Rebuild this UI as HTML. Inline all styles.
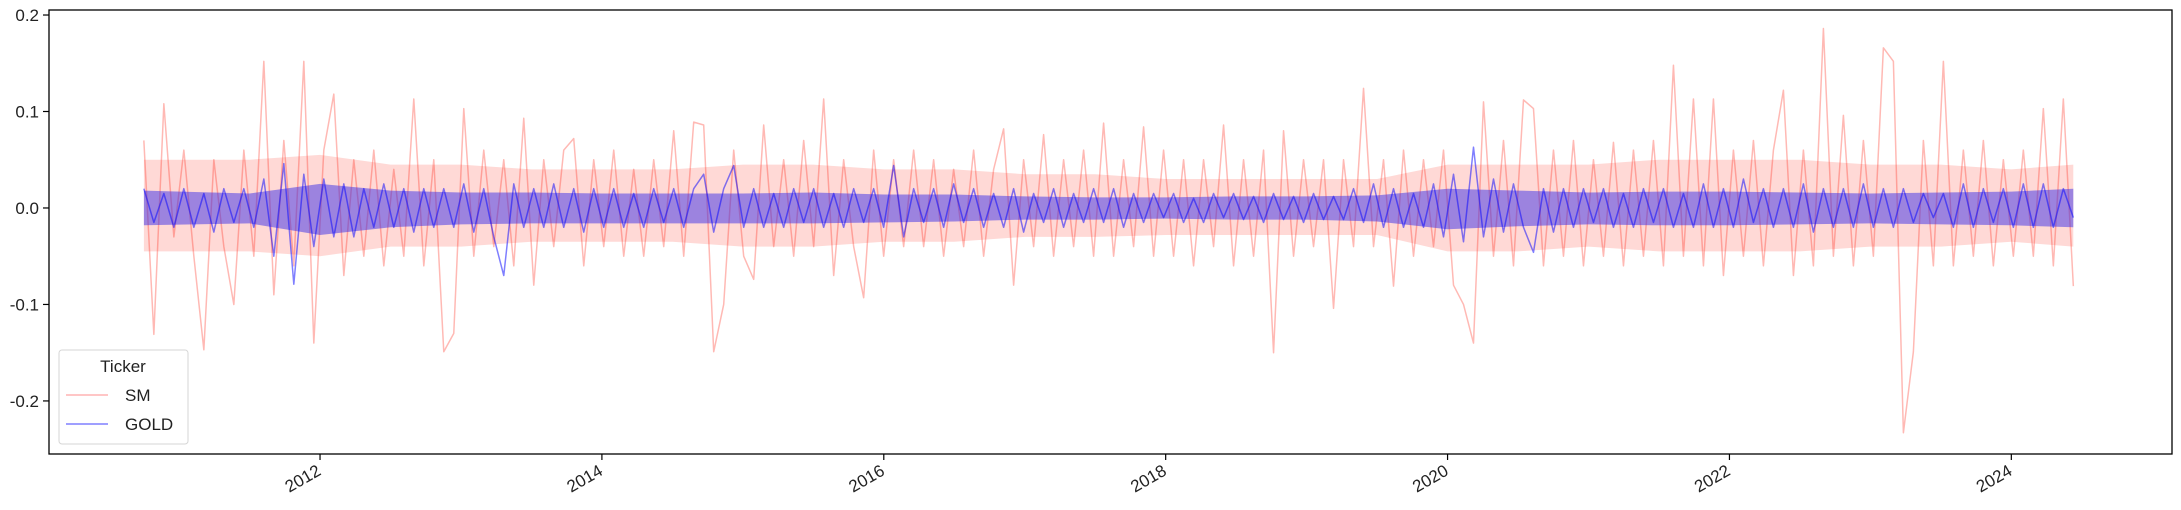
<!DOCTYPE html>
<html><head><meta charset="utf-8"><style>
html,body{margin:0;padding:0;background:#fff;}
svg{display:block;font-family:"Liberation Sans",sans-serif;}
</style></head><body>
<svg id="chart" width="2181" height="510" viewBox="0 0 2181 510" xmlns="http://www.w3.org/2000/svg">
<rect x="0" y="0" width="2181" height="510" fill="#fff"/>
<g id="plot"></g>
<g id="axes"></g>
<g id="legend">
  <rect x="59" y="350" width="129" height="94" rx="3" fill="#fff" fill-opacity="0.8" stroke="#d6d6d6"/>
  <text x="123" y="372" font-size="17" text-anchor="middle" fill="#222">Ticker</text>
  <line x1="66" y1="395" x2="108" y2="395" stroke="#ff0000" stroke-opacity="0.3" stroke-width="1.5"/>
  <text x="125" y="401" font-size="17" fill="#222">SM</text>
  <line x1="66" y1="424" x2="108" y2="424" stroke="#0000ff" stroke-opacity="0.5" stroke-width="1.5"/>
  <text x="125" y="430" font-size="17" fill="#222">GOLD</text>
</g>
</svg>
<script>
const startYear = 2010.75;
const endYear = 2024.44;
const bandStep = 0.5;
const yTicks = [0.2, 0.1, 0.0, -0.1, -0.2];
const yTickLabels = ["0.2", "0.1", "0.0", "-0.1", "-0.2"];
const xTicks = [2012, 2014, 2016, 2018, 2020, 2022, 2024];
const xTickLabels = ["2012", "2014", "2016", "2018", "2020", "2022", "2024"];
const smValues = [
0.07,-0.131,0.108,-0.03,0.06,-0.05,-0.147,0.05,-0.04,-0.10,
0.06,-0.05,0.152,-0.09,0.07,-0.06,0.152,-0.14,0.06,0.118,
-0.07,0.05,-0.05,0.06,-0.06,0.04,-0.05,0.113,-0.06,0.05,
-0.149,-0.13,0.103,-0.05,0.06,-0.04,0.05,-0.06,0.093,-0.08,
0.05,-0.04,0.06,0.072,-0.06,0.05,-0.04,0.06,-0.05,0.04,
-0.05,0.05,-0.04,0.08,-0.05,0.089,0.086,-0.149,-0.10,0.06,
-0.05,-0.074,0.086,-0.04,0.05,-0.05,0.07,-0.04,0.113,-0.07,
0.05,-0.04,-0.093,0.06,-0.05,0.05,-0.04,0.06,-0.04,0.05,
-0.05,0.04,-0.04,0.06,-0.05,0.04,0.082,-0.08,0.05,-0.04,
0.076,-0.05,0.05,-0.04,0.06,-0.05,0.088,-0.05,0.05,-0.04,
0.084,-0.05,0.06,-0.05,0.05,-0.06,0.05,-0.04,0.086,-0.06,
0.05,-0.05,0.06,-0.15,0.08,-0.05,0.05,-0.04,0.05,-0.104,
0.05,-0.04,0.124,-0.04,0.05,-0.081,0.06,-0.05,0.05,-0.04,
0.06,-0.08,-0.10,-0.14,0.11,-0.05,0.07,-0.06,0.112,0.103,
-0.06,0.06,-0.05,0.07,-0.06,0.05,-0.05,0.068,-0.06,0.06,
-0.05,0.07,-0.06,0.148,-0.05,0.113,-0.06,0.113,-0.07,0.06,
-0.05,0.07,-0.06,0.06,0.122,-0.07,0.06,-0.06,0.186,-0.05,
0.096,-0.06,0.07,-0.05,0.166,0.152,-0.233,-0.149,0.07,-0.06,
0.152,-0.06,0.06,-0.05,0.07,-0.06,0.05,-0.05,0.06,-0.05,
0.103,-0.06,0.113,-0.081];
const goldValues = [
0.02,-0.015,0.015,-0.02,0.02,-0.02,0.015,-0.025,0.02,-0.015,
0.02,-0.02,0.03,-0.05,0.046,-0.079,0.035,-0.04,0.03,-0.03,
0.025,-0.03,0.02,-0.02,0.025,-0.02,0.02,-0.025,0.02,-0.02,
0.02,-0.02,0.025,-0.025,0.02,-0.03,-0.07,0.025,-0.02,0.02,
-0.02,0.025,-0.02,0.02,-0.025,0.02,-0.02,0.02,-0.02,0.015,
-0.02,0.02,-0.015,0.02,-0.02,0.02,0.035,-0.025,0.02,0.044,
-0.02,0.02,-0.02,0.015,-0.02,0.02,-0.015,0.02,-0.02,0.015,
-0.02,0.02,-0.015,0.02,-0.02,0.044,-0.03,0.02,-0.015,0.02,
-0.02,0.025,-0.015,0.02,-0.02,0.015,-0.02,0.02,-0.025,0.015,
-0.015,0.02,-0.02,0.015,-0.015,0.02,-0.015,0.02,-0.02,0.015,
-0.015,0.015,-0.01,0.015,-0.015,0.01,-0.015,0.015,-0.01,0.015,
-0.012,0.012,-0.015,0.015,-0.012,0.012,-0.015,0.015,-0.012,0.012,
-0.012,0.02,-0.015,0.025,-0.02,0.02,-0.02,0.015,-0.02,0.025,
-0.03,0.035,-0.035,0.063,-0.03,0.03,-0.025,0.025,-0.02,-0.046,
0.02,-0.025,0.02,-0.02,0.02,-0.015,0.02,-0.02,0.015,-0.02,
0.02,-0.015,0.02,-0.02,0.015,-0.02,0.025,-0.02,0.02,-0.02,
0.03,-0.015,0.02,-0.02,0.02,-0.02,0.025,-0.025,0.02,-0.02,
0.02,-0.02,0.025,-0.02,0.02,-0.02,0.02,-0.015,0.015,-0.01,
0.015,-0.02,0.025,-0.02,0.02,-0.015,0.02,-0.02,0.025,-0.02,
0.025,-0.02,0.02,-0.01];
/* typical (dense) daily-return envelope per half-year */
const smBandHi = [0.05,0.05,0.055,0.045,0.045,0.04,0.04,0.04,0.045,0.045,0.04,0.04,0.035,0.035,0.03,0.03,0.03,0.03,0.045,0.045,0.045,0.05,0.05,0.05,0.045,0.045,0.04,0.045];
const smBandLo = [-0.045,-0.045,-0.05,-0.04,-0.04,-0.035,-0.035,-0.035,-0.04,-0.04,-0.035,-0.035,-0.03,-0.03,-0.028,-0.028,-0.028,-0.028,-0.045,-0.045,-0.04,-0.045,-0.045,-0.045,-0.04,-0.04,-0.035,-0.04];
const goldBandHi = [0.018,0.015,0.025,0.018,0.016,0.016,0.015,0.015,0.015,0.016,0.014,0.014,0.012,0.011,0.011,0.012,0.012,0.013,0.02,0.018,0.016,0.017,0.017,0.016,0.015,0.016,0.017,0.02];
const goldBandLo = [-0.018,-0.016,-0.028,-0.02,-0.017,-0.016,-0.016,-0.016,-0.016,-0.016,-0.015,-0.014,-0.012,-0.012,-0.011,-0.012,-0.012,-0.014,-0.022,-0.019,-0.017,-0.018,-0.018,-0.017,-0.016,-0.017,-0.018,-0.02];

const NS = "http://www.w3.org/2000/svg";
const L = 49, R = 2172, T = 10, B = 454;
const xMin = 2010.077, xMax = 2025.14;
const yMin = -0.255, yMax = 0.2052;
function xScale(v){ return L + (v - xMin) / (xMax - xMin) * (R - L); }
function yScale(v){ return B - (v - yMin) / (yMax - yMin) * (B - T); }
function dateAt(i, n){ return startYear + (endYear - startYear) * i / (n - 1); }
function bandDate(i){ return Math.min(endYear, startYear + bandStep * i + (i === 0 ? 0 : bandStep / 2)); }
function mk(tag, attrs){ const e = document.createElementNS(NS, tag); for (const k in attrs) e.setAttribute(k, attrs[k]); return e; }

const plot = document.getElementById('plot');
function drawBand(hi, lo, color, opacity, name){
  const pts = [];
  hi.forEach((v, i) => pts.push(xScale(bandDate(i)).toFixed(1) + ',' + yScale(v).toFixed(1)));
  pts.push(xScale(endYear).toFixed(1) + ',' + yScale(hi[hi.length - 1]).toFixed(1));
  pts.push(xScale(endYear).toFixed(1) + ',' + yScale(lo[lo.length - 1]).toFixed(1));
  for (let i = lo.length - 1; i >= 0; i--) pts.push(xScale(bandDate(i)).toFixed(1) + ',' + yScale(lo[i]).toFixed(1));
  const p = mk('polygon', {points: pts.join(' '), fill: color, 'fill-opacity': opacity, stroke: 'none'});
  
  
  plot.appendChild(p);
}
function drawSeries(vals, color, opacity, name){
  let d = '';
  vals.forEach((v, i) => { d += (i ? 'L' : 'M') + xScale(dateAt(i, vals.length)).toFixed(2) + ',' + yScale(v).toFixed(2); });
  const p = mk('path', {d: d, fill: 'none', stroke: color, 'stroke-opacity': opacity, 'stroke-width': 1.5, 'stroke-linejoin': 'round'});
  
  
  plot.appendChild(p);
}
drawBand(smBandHi, smBandLo, '#ff4030', 0.2, 'sm-band');
drawSeries(smValues, '#ff2a1a', 0.33, 'sm-line');
drawBand(goldBandHi, goldBandLo, '#3a2ee8', 0.5, 'gold-band');
drawSeries(goldValues, '#0000ff', 0.5, 'gold-line');

const axes = document.getElementById('axes');
const frame = mk('rect', {x: L, y: T, width: R - L, height: B - T, fill: 'none', stroke: '#000', 'stroke-width': 1.3});


axes.appendChild(frame);
yTicks.forEach((v, i) => {
  const y = yScale(v);
  const t = mk('line', {x1: L - 6, x2: L, y1: y, y2: y, stroke: '#000', 'stroke-width': 1.2});
  
  
  axes.appendChild(t);
  const lb = mk('text', {x: L - 10, y: y + 6, 'font-size': 17, 'text-anchor': 'end', fill: '#222'});
  lb.textContent = yTickLabels[i];
  
  
  axes.appendChild(lb);
});
xTicks.forEach((v, i) => {
  const x = xScale(v);
  const t = mk('line', {x1: x, x2: x, y1: B, y2: B + 6, stroke: '#000', 'stroke-width': 1.2});
  
  
  axes.appendChild(t);
  const lb = mk('text', {x: x + 2, y: B + 20, 'font-size': 17, 'text-anchor': 'end', fill: '#222', transform: 'rotate(-30 ' + (x + 2) + ' ' + (B + 20) + ')'});
  lb.textContent = xTickLabels[i];
  
  
  axes.appendChild(lb);
});
</script>
</body></html>
